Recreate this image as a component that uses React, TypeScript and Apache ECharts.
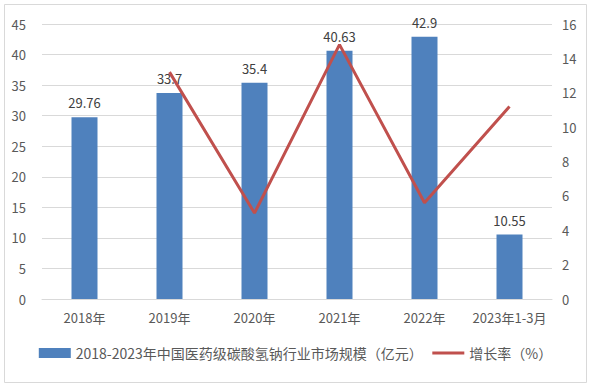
import React, { useEffect, useRef } from "react";
import * as echarts from "echarts";

const categories = ["2018年", "2019年", "2020年", "2021年", "2022年", "2023年1-3月"];
const marketSize = [29.76, 33.7, 35.4, 40.63, 42.9, 10.55];
const growthRate = [null, 13.2, 5.0, 14.8, 5.6, 11.2];
const barName = "2018-2023年中国医药级碳酸氢钠行业市场规模（亿元）";
const lineName = "增长率（%）";

const FONT = "'Noto Sans CJK SC', 'Noto Sans', sans-serif";

export default function App() {
  const ref = useRef<HTMLDivElement>(null);
  useEffect(() => {
    if (!ref.current) return;
    const chart = echarts.init(ref.current, undefined, { renderer: "svg" });
    chart.setOption({
      animation: false,
      backgroundColor: "#ffffff",
      textStyle: { fontFamily: FONT },
      graphic: [
        {
          type: "rect",
          shape: { x: 4.5, y: 4.5, width: 582, height: 378 },
          style: { fill: "none", stroke: "#d9d9d9", lineWidth: 1 },
          silent: true,
        },
      ],
      grid: { left: 42, right: 39, top: 24, bottom: 88, containLabel: false },
      legend: {
        bottom: 22,
        left: "center",
        itemGap: 8,
        itemWidth: 32,
        itemHeight: 10,
        textStyle: { color: "#595959", fontSize: 14, fontFamily: FONT },
        data: [
          { name: barName, icon: "rect" },
          { name: lineName, itemStyle: { opacity: 0 }, lineStyle: { width: 3, color: "#c0504d" } },
        ],
      },
      xAxis: {
        type: "category",
        data: categories,
        axisLine: { lineStyle: { color: "#d9d9d9" } },
        axisTick: { show: false },
        axisLabel: { color: "#595959", fontSize: 13, margin: 12, interval: 0, fontFamily: FONT },
      },
      yAxis: [
        {
          type: "value",
          min: 0,
          max: 45,
          interval: 5,
          axisLine: { show: false },
          axisTick: { show: false },
          axisLabel: { color: "#595959", fontSize: 13, margin: 16, fontFamily: FONT },
          splitLine: { lineStyle: { color: "#d9d9d9" } },
        },
        {
          type: "value",
          min: 0,
          max: 16,
          interval: 2,
          axisLine: { show: false },
          axisTick: { show: false },
          axisLabel: { color: "#595959", fontSize: 13, margin: 10, fontFamily: FONT },
          splitLine: { show: false },
        },
      ],
      series: [
        {
          name: barName,
          type: "bar",
          data: marketSize,
          barWidth: 26,
          itemStyle: { color: "#4f81bd" },
          label: {
            show: true,
            position: "top",
            distance: 8,
            color: "#404040",
            fontSize: 13,
            fontFamily: FONT,
          },
        },
        {
          name: lineName,
          type: "line",
          yAxisIndex: 1,
          data: growthRate,
          showSymbol: false,
          symbol: "none",
          lineStyle: { color: "#c0504d", width: 3 },
          itemStyle: { color: "#c0504d" },
          z: 3,
        },
      ],
    });
    return () => chart.dispose();
  }, []);
  return (
    <div
      ref={ref}
      style={{ position: "fixed", left: 0, top: 0, width: 591, height: 387 }}
    />
  );
}
